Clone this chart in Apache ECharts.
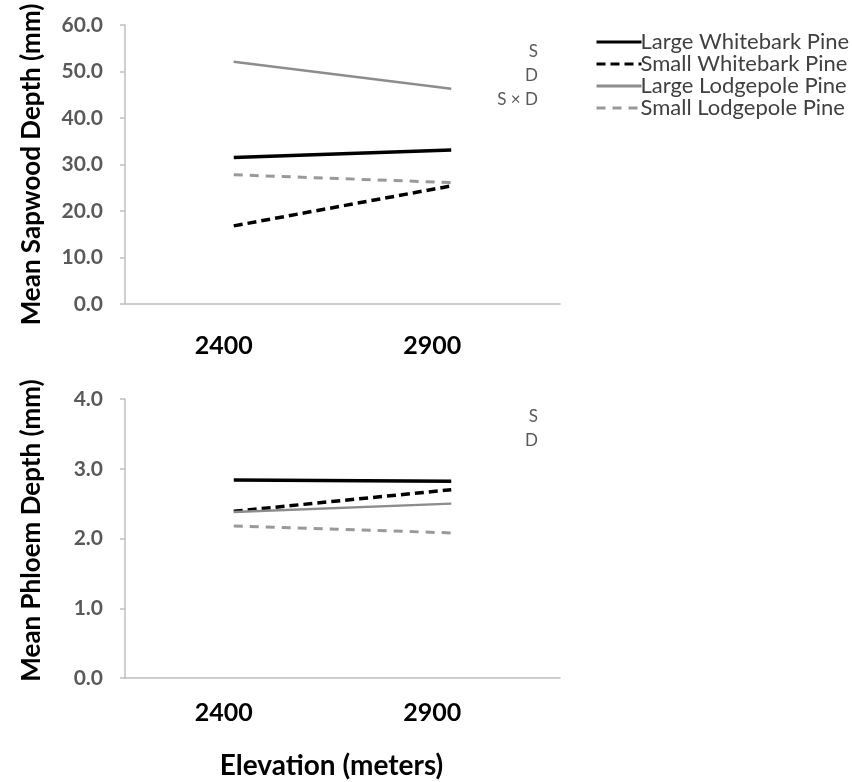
<!DOCTYPE html>
<html><head><meta charset="utf-8">
<script src="https://cdn.jsdelivr.net/npm/echarts@6/dist/echarts.min.js"></script>
<style>html,body{margin:0;padding:0;background:#fff}#c{width:852px;height:782px}</style>
</head><body><div id="c"></div>
<script>
const categories = ['2400', '2900'];
const seriesNames = ['Large Whitebark Pine', 'Small Whitebark Pine', 'Large Lodgepole Pine', 'Small Lodgepole Pine'];
const sapwoodLargeWhitebark = [31.5, 33.1];
const sapwoodSmallWhitebark = [16.8, 25.4];
const sapwoodLargeLodgepole = [52.1, 46.3];
const sapwoodSmallLodgepole = [27.8, 26.1];
const phloemLargeWhitebark = [2.84, 2.82];
const phloemSmallWhitebark = [2.39, 2.70];
const phloemLargeLodgepole = [2.38, 2.50];
const phloemSmallLodgepole = [2.18, 2.08];
const sapwoodTicks = [0, 10, 20, 30, 40, 50, 60];
const phloemTicks = [0, 1, 2, 3, 4];
const sapwoodNotes = ['S', 'D', 'S \u00d7 D'];
const phloemNotes = ['S', 'D'];

const styles = [
  {color: '#000000', width: 3.5, type: 'solid'},
  {color: '#000000', width: 3.5, type: [9, 5]},
  {color: '#8c8c8c', width: 2.5, type: 'solid'},
  {color: '#999999', width: 3, type: [9, 7]}
];
const sapData = [sapwoodLargeWhitebark, sapwoodSmallWhitebark, sapwoodLargeLodgepole, sapwoodSmallLodgepole];
const phlData = [phloemLargeWhitebark, phloemSmallWhitebark, phloemLargeLodgepole, phloemSmallLodgepole];

const axisLineStyle = {color: '#bfbfbf', width: 1.5};
function xAx(gi, margin, extra) {
  return Object.assign({
    type: 'category', gridIndex: gi, data: categories, boundaryGap: true,
    axisLine: {lineStyle: axisLineStyle}, axisTick: {show: false},
    axisLabel: {color: '#000', fontFamily: 'Lato', fontWeight: 'bold', fontSize: 25, margin: margin,
      formatter: v => '{' + (v === categories[0] ? 'a' : 'b') + '|' + v + '}',
      rich: {
        a: {color: '#000', fontFamily: 'Lato', fontWeight: 'bold', fontSize: 25, padding: [0, 20, 0, 0]},
        b: {color: '#000', fontFamily: 'Lato', fontWeight: 'bold', fontSize: 25, padding: [0, 38, 0, 0]}
      }}
  }, extra || {});
}
function yAx(gi, ticks, name, namePad) {
  return {
    type: 'value', gridIndex: gi, min: ticks[0], max: ticks[ticks.length - 1], interval: ticks[1] - ticks[0],
    axisLine: {show: true, lineStyle: axisLineStyle},
    axisTick: {show: true, length: 5, lineStyle: axisLineStyle},
    splitLine: {show: false},
    axisLabel: {color: '#595959', fontFamily: 'Lato', fontWeight: 'bold', fontSize: 21, margin: 22,
      formatter: v => v.toFixed(1)},
    name: name, nameLocation: 'middle', nameGap: 80, nameRotate: 90,
    nameTextStyle: {color: '#000', fontFamily: 'Lato', fontWeight: 'bold', fontSize: 26, padding: namePad}
  };
}
const series = [];
seriesNames.forEach((n, i) => {
  series.push({name: n, type: 'line', xAxisIndex: 0, yAxisIndex: 0, data: sapData[i], symbol: 'none',
    lineStyle: styles[i], itemStyle: {color: styles[i].color}, animation: false});
  series.push({name: n, type: 'line', xAxisIndex: 1, yAxisIndex: 1, data: phlData[i], symbol: 'none',
    lineStyle: styles[i], itemStyle: {color: styles[i].color}, animation: false});
});
const noteStyle = {fill: '#595959', font: '17px Lato', textAlign: 'right'};
const graphics = [];
sapwoodNotes.forEach((t, i) => graphics.push({type: 'text', right: 852 - 538, top: 43 + i * 24, style: Object.assign({text: t}, noteStyle)}));
phloemNotes.forEach((t, i) => graphics.push({type: 'text', right: 852 - 538, top: 408 + i * 24, style: Object.assign({text: t}, noteStyle)}));

const chart = echarts.init(document.getElementById('c'));
chart.setOption({
  animation: false,
  backgroundColor: '#fff',
  grid: [
    {left: 125, width: 435, top: 25, height: 279},
    {left: 125, width: 435, top: 399, height: 279}
  ],
  xAxis: [xAx(0, 29), xAx(1, 22, {name: 'Elevation (meters)', nameLocation: 'middle', nameGap: 74,
    nameTextStyle: {color: '#000', fontFamily: 'Lato', fontWeight: 'bold', fontSize: 28, padding: [0, 22, 0, 0]}})],
  yAxis: [yAx(0, sapwoodTicks, 'Mean Sapwood Depth (mm)', [0, 0, 0, 0]), yAx(1, phloemTicks, 'Mean Phloem Depth (mm)', [0, 0, 0, 16])],
  legend: {
    orient: 'vertical', left: 590, top: 26, itemWidth: 45, itemHeight: 14, itemGap: 0,
    lineStyle: {width: 3},
    data: seriesNames.map(n => ({name: n, itemStyle: {opacity: 0}})),
    textStyle: {color: '#404040', fontFamily: 'Lato', fontSize: 22, padding: [0, 0, 0, -6]}
  },
  graphic: graphics,
  series: series
});
</script></body></html>
